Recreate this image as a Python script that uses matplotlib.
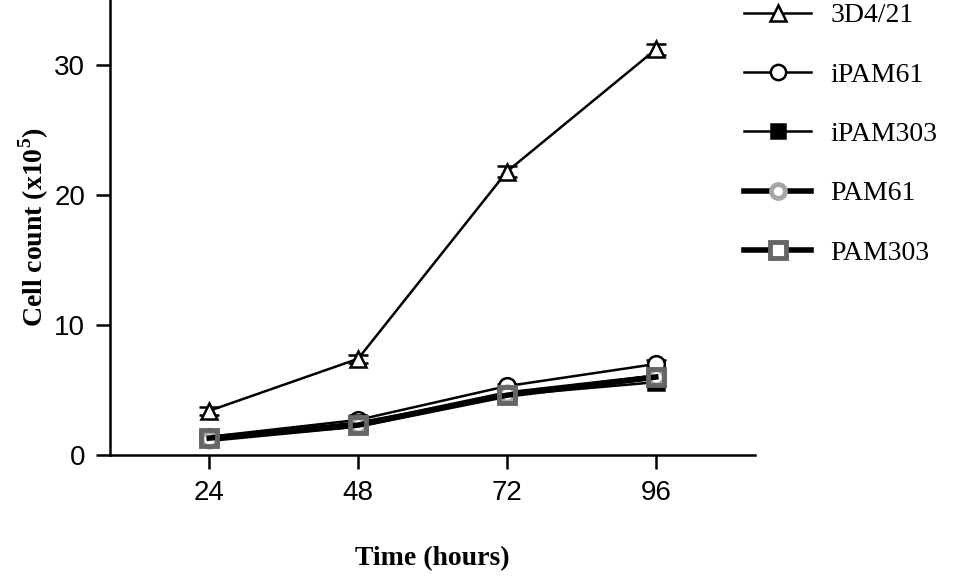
import matplotlib
matplotlib.use('Agg')
from matplotlib import pyplot as plt
from matplotlib.lines import Line2D
import numpy as np

plt.rcParams['mathtext.fontset'] = 'custom'
plt.rcParams['mathtext.rm'] = 'Liberation Serif'
plt.rcParams['mathtext.bf'] = 'Liberation Serif:bold'

hours = [24, 48, 72, 96]
names = ['3D4/21', 'iPAM61', 'iPAM303', 'PAM61', 'PAM303']
cells_3d4 = [3.4, 7.4, 21.8, 31.2]
cells_ipam61 = [1.4, 2.7, 5.3, 7.0]
cells_ipam303 = [1.3, 2.5, 4.6, 5.6]
cells_pam61 = [1.2, 2.3, 4.7, 6.0]
cells_pam303 = [1.3, 2.3, 4.6, 6.0]
err_3d4 = [0.3, 0.3, 0.4, 0.4]
err_other = [0.2, 0.2, 0.2, 0.3]

fig = plt.figure(figsize=(9.69, 5.78), dpi=100)
ax = fig.add_axes([110/969, 123/578, 645/969, 455/578])

styles = [
    dict(marker='^', mfc='white', mec='black', color='black', lw=1.8, ms=12, mew=1.8),
    dict(marker='o', mfc='white', mec='black', color='black', lw=1.8, ms=12, mew=1.8),
    dict(marker='s', mfc='black', mec='black', color='black', lw=1.8, ms=11, mew=1.8),
    dict(marker='o', mfc='white', mec='#a6a6a6', color='black', lw=4, ms=11, mew=3.5),
    dict(marker='s', mfc='none', mec='#666666', color='black', lw=4, ms=12, mew=3.5),
]
series = [cells_3d4, cells_ipam61, cells_ipam303, cells_pam61, cells_pam303]
errs = [err_3d4, err_other, err_other, err_other, err_other]

handles = []
for name, vals, e, st in zip(names, series, errs, styles):
    ax.errorbar(hours, vals, yerr=e, capsize=7, capthick=1.8, elinewidth=1.8,
                ecolor='black', **st)
    hst = dict(st)
    if hst['mfc'] == 'none':
        hst['mfc'] = 'white'
    hst['ms'] = hst['ms'] - 1
    handles.append(Line2D([], [], label=name, **hst))

ax.set_xlim(8, 112)
ax.set_ylim(0, 35)
ax.set_xticks(hours)
ax.set_yticks([0, 10, 20, 30])
for s in ['top', 'right']:
    ax.spines[s].set_visible(False)
for s in ['left', 'bottom']:
    ax.spines[s].set_linewidth(1.8)
ax.tick_params(length=10, width=1.8, labelsize=20, pad=8)
for lab in ax.get_xticklabels() + ax.get_yticklabels():
    lab.set_family(['Liberation Sans Narrow', 'Liberation Sans'])

ax.set_xlabel('Time (hours)', family='Liberation Serif', fontweight='bold',
              fontsize=20, labelpad=29)
ax.set_ylabel(r'Cell count (x10$^{\mathbf{5}}$)', family='Liberation Serif',
              fontweight='bold', fontsize=20, labelpad=2)

leg = ax.legend(handles=handles, loc='upper left', bbox_to_anchor=(0.962, 1.024),
                frameon=False, borderpad=0,
                prop={'family': 'Liberation Serif', 'size': 20},
                handlelength=2.4, labelspacing=1.22, handletextpad=0.7)

plt.savefig('out.png', dpi=100)
